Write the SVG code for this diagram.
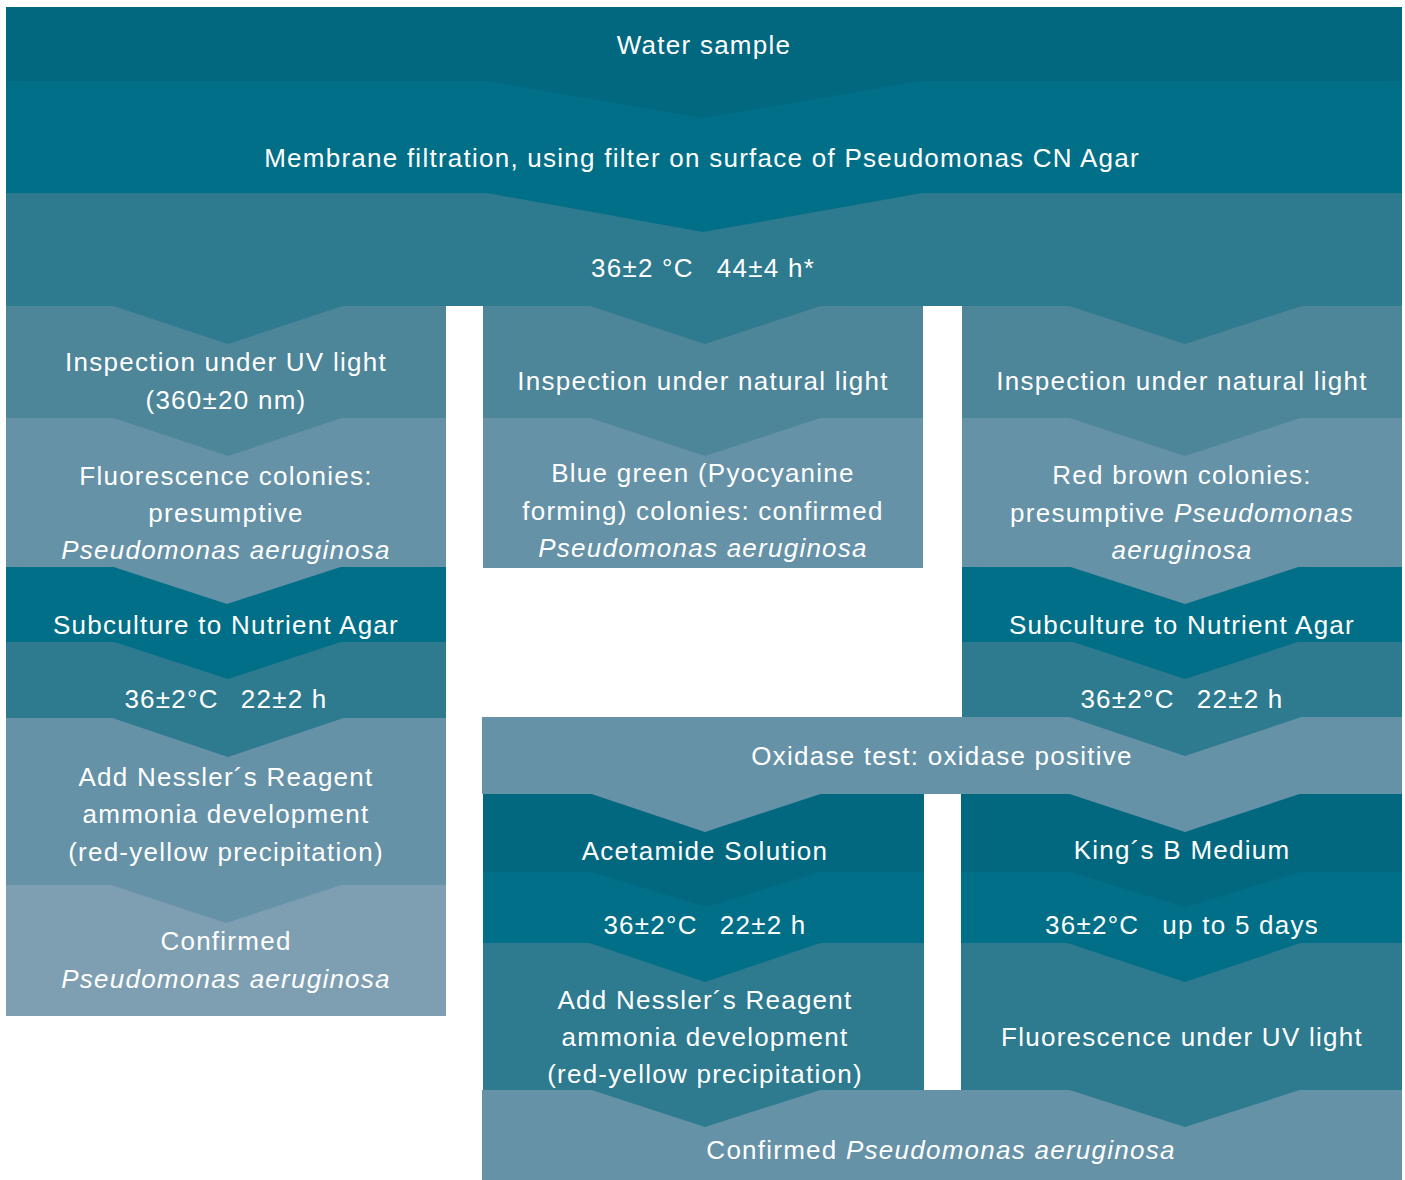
<svg xmlns="http://www.w3.org/2000/svg" width="1405" height="1180" viewBox="0 0 1405 1180">
<style>
.t{font-family:"Liberation Sans",Arial,sans-serif;font-size:26px;fill:#ffffff;text-anchor:middle;letter-spacing:1.25px}
.i{font-style:italic}
.c1{fill:#02687f}
.c2{fill:#006f87}
.c3{fill:#2e7a8f}
.c4{fill:#4d8599}
.c5{fill:#6692a7}
.c6{fill:#7e9fb2}
</style>
<rect width="1405" height="1180" fill="#ffffff"/>
<g id="nodes">
  <g id="n-bottom"><rect class="c5" x="482" y="1090" width="920" height="90"/>
    <text class="t" x="941" y="1159">Confirmed <tspan class="i">Pseudomonas aeruginosa</tspan></text></g>
  <g id="n-nessler2"><rect class="c3" x="483" y="943" width="441" height="147"/>
    <text class="t" x="705" y="1009">Add Nessler´s Reagent</text>
    <text class="t" x="705" y="1046">ammonia development</text>
    <text class="t" x="705" y="1083">(red-yellow precipitation)</text></g>
  <g id="n-fluor-uv"><rect class="c3" x="961" y="943" width="441" height="147"/>
    <text class="t" x="1182" y="1046">Fluorescence under UV light</text></g>
  <g id="n-temp-acet"><rect class="c2" x="483" y="872" width="441" height="71"/>
    <text class="t" x="705" y="934">36±2°C<tspan dx="22">22±2 h</tspan></text></g>
  <g id="n-temp-kings"><rect class="c2" x="961" y="872" width="441" height="71"/>
    <text class="t" x="1182" y="934">36±2°C<tspan dx="23">up to 5 days</tspan></text></g>
  <g id="n-acetamide"><rect class="c1" x="483" y="794" width="441" height="78"/>
    <text class="t" x="705" y="860">Acetamide Solution</text></g>
  <g id="n-kings"><rect class="c1" x="961" y="794" width="441" height="78"/>
    <text class="t" x="1182" y="859">King´s B Medium</text></g>
  <g id="n-oxidase"><rect class="c5" x="482" y="717" width="920" height="77"/>
    <text class="t" x="942" y="765">Oxidase test: oxidase positive</text></g>
  <g id="n-r-temp"><rect class="c3" x="962" y="642" width="440" height="75"/>
    <text class="t" x="1182" y="708">36±2°C<tspan dx="22">22±2 h</tspan></text></g>
  <g id="n-r-sub"><rect class="c2" x="962" y="567" width="440" height="75"/>
    <text class="t" x="1182" y="634">Subculture to Nutrient Agar</text></g>
  <g id="n-r-red"><rect class="c5" x="962" y="418" width="440" height="149"/>
    <text class="t" x="1182" y="484">Red brown colonies:</text>
    <text class="t" x="1182" y="522">presumptive <tspan class="i">Pseudomonas</tspan></text>
    <text class="t i" x="1182" y="559">aeruginosa</text></g>
  <g id="n-r-insp"><rect class="c4" x="962" y="306" width="440" height="112"/>
    <text class="t" x="1182" y="390">Inspection under natural light</text></g>
  <g id="n-m-blue"><rect class="c5" x="483" y="418" width="440" height="150"/>
    <text class="t" x="703" y="482">Blue green (Pyocyanine</text>
    <text class="t" x="703" y="520">forming) colonies: confirmed</text>
    <text class="t i" x="703" y="557">Pseudomonas aeruginosa</text></g>
  <g id="n-m-insp"><rect class="c4" x="483" y="306" width="440" height="112"/>
    <text class="t" x="703" y="390">Inspection under natural light</text></g>
  <g id="n-l-conf"><rect class="c6" x="6" y="885" width="440" height="131"/>
    <text class="t" x="226" y="950">Confirmed</text>
    <text class="t i" x="226" y="988">Pseudomonas aeruginosa</text></g>
  <g id="n-l-nessler"><rect class="c5" x="6" y="718" width="440" height="167"/>
    <text class="t" x="226" y="786">Add Nessler´s Reagent</text>
    <text class="t" x="226" y="823">ammonia development</text>
    <text class="t" x="226" y="861">(red-yellow precipitation)</text></g>
  <g id="n-l-temp"><rect class="c3" x="6" y="642" width="440" height="76"/>
    <text class="t" x="226" y="708">36±2°C<tspan dx="22">22±2 h</tspan></text></g>
  <g id="n-l-sub"><rect class="c2" x="6" y="567" width="440" height="75"/>
    <text class="t" x="226" y="634">Subculture to Nutrient Agar</text></g>
  <g id="n-l-fluor"><rect class="c5" x="6" y="418" width="440" height="149"/>
    <text class="t" x="226" y="485">Fluorescence colonies:</text>
    <text class="t" x="226" y="522">presumptive</text>
    <text class="t i" x="226" y="559">Pseudomonas aeruginosa</text></g>
  <g id="n-l-insp"><rect class="c4" x="6" y="306" width="440" height="112"/>
    <text class="t" x="226" y="371">Inspection under UV light</text>
    <text class="t" x="226" y="409">(360±20 nm)</text></g>
  <g id="n-incubation"><rect class="c3" x="6" y="193" width="1396" height="113"/>
    <text class="t" x="703" y="277">36±2 °C<tspan dx="23">44±4 h*</tspan></text></g>
  <g id="n-membrane"><rect class="c2" x="6" y="81" width="1396" height="112"/>
    <text class="t" x="702" y="167">Membrane filtration, using filter on surface of Pseudomonas CN Agar</text></g>
  <g id="n-water"><rect class="c1" x="6" y="7" width="1396" height="74"/>
    <text class="t" x="704" y="54">Water sample</text></g>
</g>
<g id="connectors">
  <polygon class="c1" points="484,80.5 703,118 923,80.5"/>
  <polygon class="c2" points="484,192.5 703,232 925,192.5"/>
  <polygon class="c3" points="112,305.5 228,344 344,305.5"/>
  <polygon class="c3" points="589,305.5 705,344 822,305.5"/>
  <polygon class="c3" points="1068,305.5 1185,344 1303,305.5"/>
  <polygon class="c4" points="112,417.5 228,456 343,417.5"/>
  <polygon class="c4" points="589,417.5 705,456 822,417.5"/>
  <polygon class="c4" points="1068,417.5 1185,456 1302,417.5"/>
  <polygon class="c5" points="112,566.5 227,604 342,566.5"/>
  <polygon class="c5" points="1069,566.5 1185,604 1300,566.5"/>
  <polygon class="c2" points="113,641.5 228,679 342,641.5"/>
  <polygon class="c2" points="1072,641.5 1185,679 1299,641.5"/>
  <polygon class="c3" points="111,717.5 228,757 345,717.5"/>
  <polygon class="c3" points="1068,716.5 1185,756 1303,716.5"/>
  <polygon class="c5" points="110,884.5 226,923 343,884.5"/>
  <polygon class="c5" points="590,793.5 705,832 822,793.5"/>
  <polygon class="c5" points="1068,793.5 1185,832 1301,793.5"/>
  <polygon class="c1" points="590,871.5 706,907 822,871.5"/>
  <polygon class="c1" points="1068,871.5 1185,907 1302,871.5"/>
  <polygon class="c2" points="588,942.5 705,982 822,942.5"/>
  <polygon class="c2" points="1066,942.5 1185,982 1302,942.5"/>
  <polygon class="c3" points="590,1089.5 705,1127 822,1089.5"/>
  <polygon class="c3" points="1068,1089.5 1185,1127 1301,1089.5"/>
</g>
</svg>
